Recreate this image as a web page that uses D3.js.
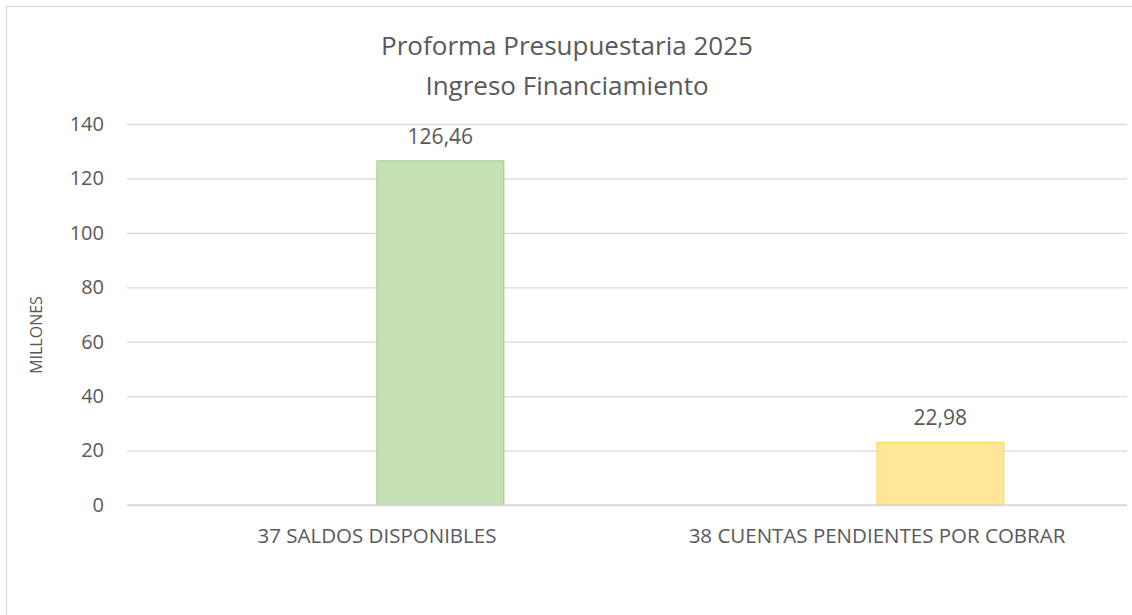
<!DOCTYPE html>
<html>
<head>
<meta charset="utf-8">
<script src="https://cdn.jsdelivr.net/npm/d3@7"></script>
<style>
	body { margin: 0; background: #fff; }
	text { font-family: "Open Sans", "Noto Sans", sans-serif; fill: #595959; }
</style>
</head>
<body>
<div id="chart"></div>
<script>
var categories = ["37 SALDOS DISPONIBLES", "38 CUENTAS PENDIENTES POR COBRAR"];
var values = [126.46, 22.98];
var fills = ["#c5e0b4", "#ffe699"];
var strokes = ["#a9d18e", "#ffd966"];
var yTicks = [0, 20, 40, 60, 80, 100, 120, 140];
var titleLines = ["Proforma Presupuestaria 2025", "Ingreso Financiamiento"];
var yTitle = "MILLONES";

var width = 1132, height = 615;
var margins = {top: 124, right: 5, bottom: 110, left: 127};
var chart = {
	width: width - margins.left - margins.right,
	height: 505 - margins.top
};

var svg = d3.select("#chart").append("svg")
	.attr("width", width)
	.attr("height", height);

// chart frame
svg.append("rect")
	.attr("x", 6.5).attr("y", 6.5)
	.attr("width", width + 20).attr("height", height + 20)
	.attr("fill", "none")
	.attr("stroke", "#d9d9d9")
	.attr("stroke-width", 1.3);

var g = svg.append("g")
	.attr("transform", "translate(" + margins.left + "," + margins.top + ")");

var x = d3.scaleBand()
	.domain(categories)
	.range([0, chart.width]);
// two series slots in each category, the bar sits in the second one
var slot = d3.scaleBand()
	.domain(["a", "b"])
	.range([0, x.bandwidth()])
	.paddingOuter(0.973);
var y = d3.scaleLinear()
	.domain([0, 140])
	.range([chart.height, 0]);

// gridlines + tick labels
var yAxis = g.append("g")
	.call(d3.axisLeft(y).tickValues(yTicks).tickSize(-chart.width).tickPadding(23));
yAxis.select(".domain").remove();
yAxis.selectAll(".tick line")
	.attr("stroke", "#d9d9d9")
	.attr("stroke-width", 1.3);
yAxis.selectAll(".tick text")
	.attr("font-size", "20px")
	.attr("font-family", "Open Sans")
	.attr("fill", "#595959");

var data = categories.map(function(c, i){ return {key: c, value: values[i], fill: fills[i], stroke: strokes[i]}; });

g.selectAll("rect.bar")
	.data(data)
	.enter().append("rect")
	.attr("class", "bar")
	.attr("x", function(d){ return x(d.key) + slot("b"); })
	.attr("y", function(d){ return y(d.value); })
	.attr("width", slot.bandwidth())
	.attr("height", function(d){ return y(0) - y(d.value); })
	.attr("fill", function(d){ return d.fill; })
	.attr("stroke", function(d){ return d.stroke; })
	.attr("stroke-width", 1.3);

// baseline
g.append("line")
	.attr("x1", 0).attr("x2", chart.width)
	.attr("y1", y(0)).attr("y2", y(0))
	.attr("stroke", "#d9d9d9")
	.attr("stroke-width", 1.5);

// value labels
var fmt = function(v){ return d3.format(".2f")(v).replace(".", ","); };
g.selectAll("text.label")
	.data(data)
	.enter().append("text")
	.attr("class", "label")
	.attr("x", function(d){ return x(d.key) + slot("b") + slot.bandwidth() / 2; })
	.attr("y", function(d){ return y(d.value) - 17; })
	.attr("text-anchor", "middle")
	.attr("font-size", "21px")
	.text(function(d){ return fmt(d.value); });

// category labels
g.selectAll("text.cat")
	.data(categories)
	.enter().append("text")
	.attr("class", "cat")
	.attr("x", function(d){ return x(d) + x.bandwidth() / 2; })
	.attr("y", y(0) + 38)
	.attr("text-anchor", "middle")
	.attr("font-size", "20.5px")
	.text(function(d){ return d; });

// title
svg.append("g").selectAll("text")
	.data(titleLines)
	.enter().append("text")
	.attr("x", 567)
	.attr("y", function(d, i){ return 55 + i * 40; })
	.attr("text-anchor", "middle")
	.attr("font-size", "26px")
	.text(function(d){ return d; });

// y axis title
svg.append("text")
	.attr("transform", "translate(42,335) rotate(-90)")
	.attr("text-anchor", "middle")
	.attr("font-size", "16px")
	.text(yTitle);
</script>
</body>
</html>
